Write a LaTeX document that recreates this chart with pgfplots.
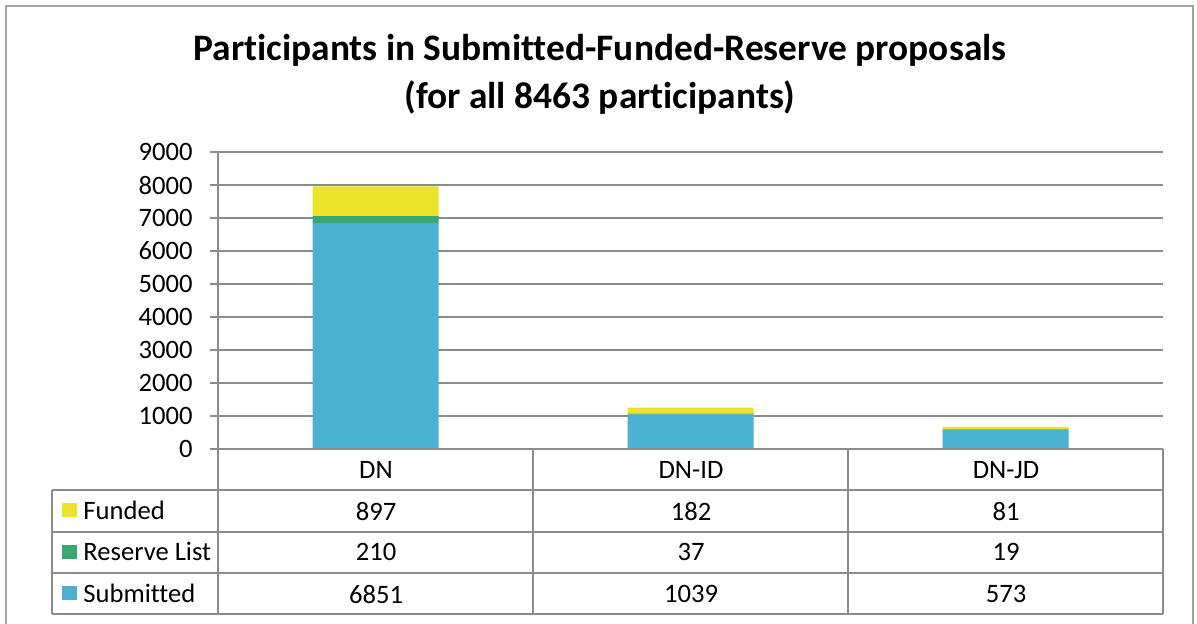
\documentclass[border=0pt]{standalone}
\usepackage{fontspec}
\setmainfont{Carlito}[Ligatures=NoCommon]
\usepackage{pgfplots}
\pgfplotsset{compat=1.18}
\definecolor{submitted}{HTML}{4BB1D0}
\definecolor{reserve}{HTML}{3AA771}
\definecolor{funded}{HTML}{EBE22A}
\definecolor{gridgray}{HTML}{8C8C8C}
\newcommand{\lblfont}{\fontsize{13.3}{16}\selectfont}

\begin{document}
\begin{tikzpicture}
\begin{scope}[x=0.5pt,y=-0.5pt]
\path[use as bounding box] (0,0) rectangle (1197,623);
\draw[gridgray!80,line width=1.1pt] (6,640) -- (6,6) -- (1193,6) -- (1193,640);
\node[font=\fontsize{18.7}{24}\selectfont\bfseries,align=center] at (600,74)
  {Participants in Submitted-Funded-Reserve proposals\\(for all 8463 participants)};
\end{scope}

\begin{axis}[at={(109pt,-224.5pt)},anchor=south west,scale only axis,
  width=472.5pt,height=148.5pt,
  ybar stacked,bar width=63pt,
  xmin=-0.5,xmax=2.5,ymin=0,ymax=9000,
  xtick=\empty,ytick={0,1000,...,9000},
  axis x line=none,axis y line*=left,
  axis line style={gridgray,line width=1pt,-},
  ymajorgrids,grid style={gridgray,line width=1pt},
  tick style={gridgray,line width=1pt},
  major tick length=4pt,tick align=outside,
  yticklabel style={font=\lblfont,inner sep=0pt},
  /pgf/number format/assume math mode=true,
  /pgf/number format/set thousands separator={},
  y tick label style={xshift=-8.5pt}]
\addplot[fill=submitted,draw=none] coordinates {(0,6851) (1,1039) (2,573)};
\addplot[fill=reserve,draw=none] coordinates {(0,210) (1,37) (2,19)};
\addplot[fill=funded,draw=none] coordinates {(0,897) (1,182) (2,81)};
\end{axis}

\begin{scope}[x=0.5pt,y=-0.5pt]
\begin{scope}[gridgray,line width=1pt]
\draw (210,449) -- (1163,449);
\foreach \yy in {490,531.5,573,614} \draw (52,\yy) -- (1163,\yy);
\draw (52,490) -- (52,614);
\foreach \xx in {218,533,848,1163} \draw (\xx,449) -- (\xx,614);
\end{scope}
\begin{scope}[every node/.style={font=\lblfont,inner sep=0pt}]
\node at (376,470) {DN};
\node at (691,470) {DN-ID};
\node at (1006,470) {DN-JD};
\node at (376,511) {897};  \node at (691,511) {182}; \node at (1006,511) {81};
\node at (376,552) {210};  \node at (691,552) {37};  \node at (1006,552) {19};
\node at (376,594) {6851}; \node at (691,594) {1039}; \node at (1006,594) {573};
\fill[funded] (62,503) rectangle (77,517);
\fill[reserve] (62,545) rectangle (77,559);
\fill[submitted] (62,586) rectangle (77,600);
\node[anchor=west] at (83,510) {Funded};
\node[anchor=west] at (83,551) {Reserve List};
\node[anchor=west] at (83,593) {Submitted};
\end{scope}
\end{scope}
\end{tikzpicture}
\end{document}
